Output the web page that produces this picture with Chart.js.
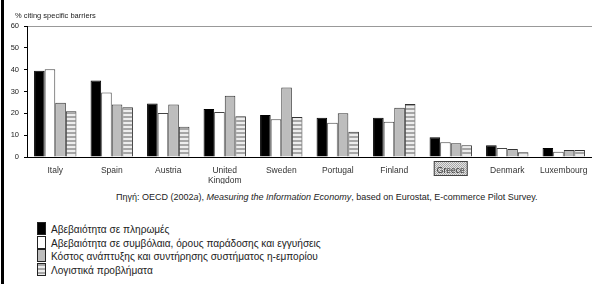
<!DOCTYPE html>
<html>
<head>
<meta charset="utf-8">
<script src="https://cdn.jsdelivr.net/npm/chart.js@4"></script>
<style>
  html, body { margin: 0; padding: 0; background: #fff; }
  body { width: 592px; height: 284px; position: relative; overflow: hidden; font-family: "Liberation Sans", Arial, sans-serif; }
  .frame { position: absolute; left: 1px; top: 0; width: 3px; height: 284px; background: #000; }
  #chartWrap { position: absolute; left: 0; top: 0; width: 592px; height: 184px; }
  .source { position: absolute; left: 116px; top: 192px; font-size: 9px; color: #222; white-space: nowrap; }
  .legend { position: absolute; left: 37px; top: 222px; font-size: 10.1px; color: #222; }
  .legend .row { height: 13.7px; line-height: 13.7px; white-space: nowrap; }
  .legend .sw { display: inline-block; width: 7px; height: 11px; border: 1px solid #222; vertical-align: -2px; margin-right: 5px; }
</style>
</head>
<body>
<div id="chartWrap"><canvas id="chart" width="592" height="184"></canvas></div>
<div class="frame"></div>
<div class="source">Πηγή: OECD (2002<i>a</i>), <i>Measuring the Information Economy</i>, based on Eurostat, E-commerce Pilot Survey.</div>
<div class="legend" id="legend"></div>

<script>
/* chart data */
const categories = ['Italy', 'Spain', 'Austria', ['United', 'Kingdom'], 'Sweden', 'Portugal', 'Finland', 'Greece', 'Denmark', 'Luxembourg'];
const payments  = [39.5, 35, 24.5, 22, 19.2, 18, 18, 9, 5.4, 4.1];
const contracts = [40.2, 29.5, 20.2, 20.6, 17.3, 15.7, 16.2, 6.7, 4.1, 2.4];
const costs     = [24.8, 24, 24, 28, 31.8, 20, 22.6, 6.3, 3.7, 3.2];
const logistics = [21, 22.8, 13.8, 18.7, 18.3, 11.6, 24.3, 5.4, 2.2, 3.2];
const seriesNames = [
  'Αβεβαιότητα σε πληρωμές',
  'Αβεβαιότητα σε συμβόλαια, όρους παράδοσης και εγγυήσεις',
  'Κόστος ανάπτυξης και συντήρησης συστήματος η-εμπορίου',
  'Λογιστικά προβλήματα'
];
const yTicks = [0, 10, 20, 30, 40, 50, 60];
const yTitle = '% citing specific barriers';
const highlighted = 'Greece';

// striped fill for the last series
function stripes() {
  const c = document.createElement('canvas');
  c.width = 4; c.height = 4;
  const g = c.getContext('2d');
  g.fillStyle = '#ededed'; g.fillRect(0, 0, 4, 4);
  g.fillStyle = '#a6a6a6'; g.fillRect(0, 0, 4, 2);
  return g.createPattern(c, 'repeat');
}
function dots() {
  const c = document.createElement('canvas');
  c.width = 2; c.height = 2;
  const g = c.getContext('2d');
  g.fillStyle = '#e4e4e4'; g.fillRect(0, 0, 2, 2);
  g.fillStyle = '#a8a8a8'; g.fillRect(0, 0, 1, 1); g.fillRect(1, 1, 1, 1);
  return g.createPattern(c, 'repeat');
}

const fills = ['#000000', '#ffffff', '#bdbdbd', stripes()];
const borders = ['#000000', '#444444', '#333333', '#333333'];
const values = [payments, contracts, costs, logistics];

// dotted box behind the Greece label + small axis caption
const extras = {
  id: 'extras',
  beforeDraw(chart) {
    const x = chart.scales.x;
    const cx = x.getPixelForValue(categories.indexOf(highlighted));
    const g = chart.ctx;
    g.save();
    g.fillStyle = dots();
    g.fillRect(cx - 17, 161, 34, 15);
    g.strokeStyle = '#444';
    g.lineWidth = 1;
    g.strokeRect(cx - 16.5, 161.5, 33, 14);
    g.fillStyle = '#222';
    g.font = '7.5px "Liberation Sans"';
    g.textBaseline = 'alphabetic';
    g.fillText(yTitle, 15, 18);
    g.restore();
  }
};

new Chart(document.getElementById('chart'), {
  type: 'bar',
  data: {
    labels: categories,
    datasets: values.map((v, i) => ({
      label: seriesNames[i],
      data: v,
      backgroundColor: fills[i],
      borderColor: borders[i],
      borderWidth: 1,
      categoryPercentage: 0.75,
      barPercentage: 1
    }))
  },
  options: {
    responsive: false,
    animation: false,
    layout: { padding: { left: 0, right: 0, top: 26, bottom: 0 } },
    plugins: {
      legend: { display: false },
      tooltip: { enabled: false }
    },
    scales: {
      x: {
        grid: { display: false },
        border: { display: true, color: '#000', width: 1 },
        ticks: {
          color: '#333', font: { family: 'Liberation Sans', size: 8.5, lineHeight: 1.25 },
          maxRotation: 0, autoSkip: false, padding: 0
        },
        afterFit(s) { s.height = 27; }
      },
      y: {
        min: 0, max: 60,
        afterBuildTicks(s) { s.ticks = yTicks.map(v => ({ value: v })); },
        grid: {
          color: c => (c.tick && c.tick.value === 60 ? '#999' : 'rgba(0,0,0,0)'),
          tickColor: '#000', tickLength: 3, drawTicks: true
        },
        border: { display: true, color: '#000', width: 1 },
        ticks: { color: '#222', font: { family: 'Liberation Sans', size: 7.5 }, padding: 5 },
        afterFit(s) { s.width = 27; }
      }
    }
  },
  plugins: [extras]
});

// html legend
const legend = document.getElementById('legend');
seriesNames.forEach((name, i) => {
  const row = document.createElement('div');
  row.className = 'row';
  const sw = document.createElement('span');
  sw.className = 'sw';
  if (i === 3) sw.style.background = 'repeating-linear-gradient(#a6a6a6 0 2px, #ededed 2px 4px)';
  else sw.style.background = fills[i];
  row.appendChild(sw);
  row.appendChild(document.createTextNode(name));
  legend.appendChild(row);
});
</script>
</body>
</html>
